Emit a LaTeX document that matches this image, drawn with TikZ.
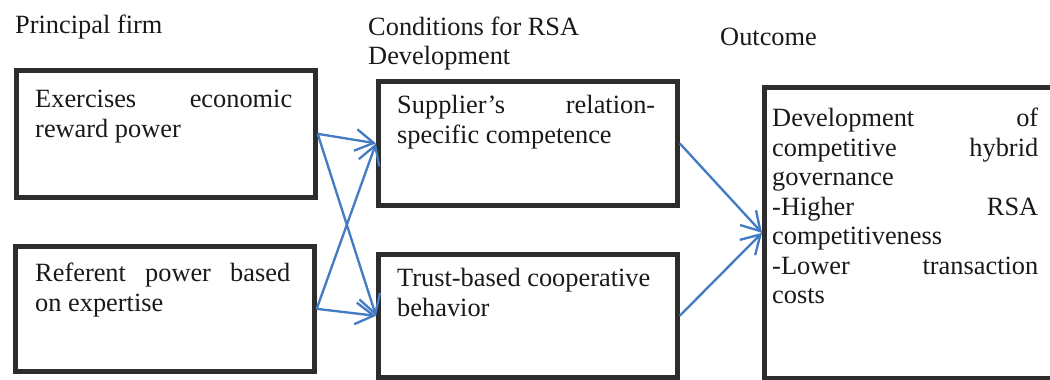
\documentclass[tikz,border=0pt]{standalone}
\usepackage{fontspec}
\setmainfont{Liberation Serif}
\usetikzlibrary{positioning,arrows.meta}

\definecolor{linkblue}{RGB}{68,124,196}
\definecolor{framegray}{RGB}{45,45,45}
\newcommand{\figfont}{\fontsize{22.5}{25.2}\selectfont}
% a line spread out to a given width
\newcommand{\spread}[2]{\makebox[#1][s]{#2}}

\begin{document}
\begin{tikzpicture}[
    every node/.style={align=left, inner sep=0pt, font=\figfont, text=black!90},
    box/.style={draw=framegray, line width=4pt, anchor=north west},
    linkarrow/.style={draw=linkblue, line width=2pt, -{Straight Barb[length=0.55cm,width=0.65cm]}}]
    \useasboundingbox (0,0) rectangle (31.5,11.37);

    % column headings
    \node[anchor=north west] (hfirm) at (0.45,10.93) {Principal firm};
    \node[anchor=north west] (hcond) at (11.04,10.88) {Conditions for RSA\\Development};
    \node[anchor=north west] (hout) at (21.6,10.55) {Outcome};

    % frames
    \node[box, minimum width=8.97cm, minimum height=3.81cm] (reward) at (0.42,9.33) {};
    \node[box, minimum width=8.97cm, minimum height=3.75cm] (referent) at (0.39,4.05) {};
    \node[box, minimum width=8.97cm, minimum height=3.72cm] (supplier) at (11.28,9.0) {};
    \node[box, minimum width=8.97cm, minimum height=3.69cm] (trust) at (11.28,3.81) {};
    \node[box, minimum width=9.5cm, minimum height=8.73cm] (outcome) at (22.86,8.82) {};

    % texts in the frames
    \node[below right=0.66cm and 0.63cm of reward.north west] (rewardtext)
        {\spread{7.71cm}{Exercises\hfill economic}\\reward power};
    \node[below right=0.57cm and 0.66cm of referent.north west] (referenttext)
        {\spread{7.65cm}{Referent\hfill power\hfill based}\\on expertise};
    \node[below right=0.48cm and 0.63cm of supplier.north west] (suppliertext)
        {\spread{7.74cm}{Supplier's\hfill relation-}\\specific competence};
    \node[below right=0.48cm and 0.63cm of trust.north west] (trusttext)
        {Trust-based cooperative\\behavior};
    \node[below right=0.69cm and 0.3cm of outcome.north west] (outcometext)
        {\spread{7.98cm}{Development\hfill of}\\\spread{7.98cm}{competitive\hfill hybrid}\\governance\\
         \spread{7.98cm}{-Higher\hfill RSA}\\competitiveness\\\spread{7.98cm}{-Lower\hfill transaction}\\costs};

    % links
    \draw[linkarrow] (reward.east) -- (supplier.west);
    \draw[linkarrow] (reward.east) -- (trust.west);
    \draw[linkarrow] (referent.east) -- (supplier.west);
    \draw[linkarrow] (referent.east) -- (trust.west);
    \draw[linkarrow] (supplier.east) -- (outcome.west);
    \draw[linkarrow] (trust.east) -- (outcome.west);
\end{tikzpicture}
\end{document}
